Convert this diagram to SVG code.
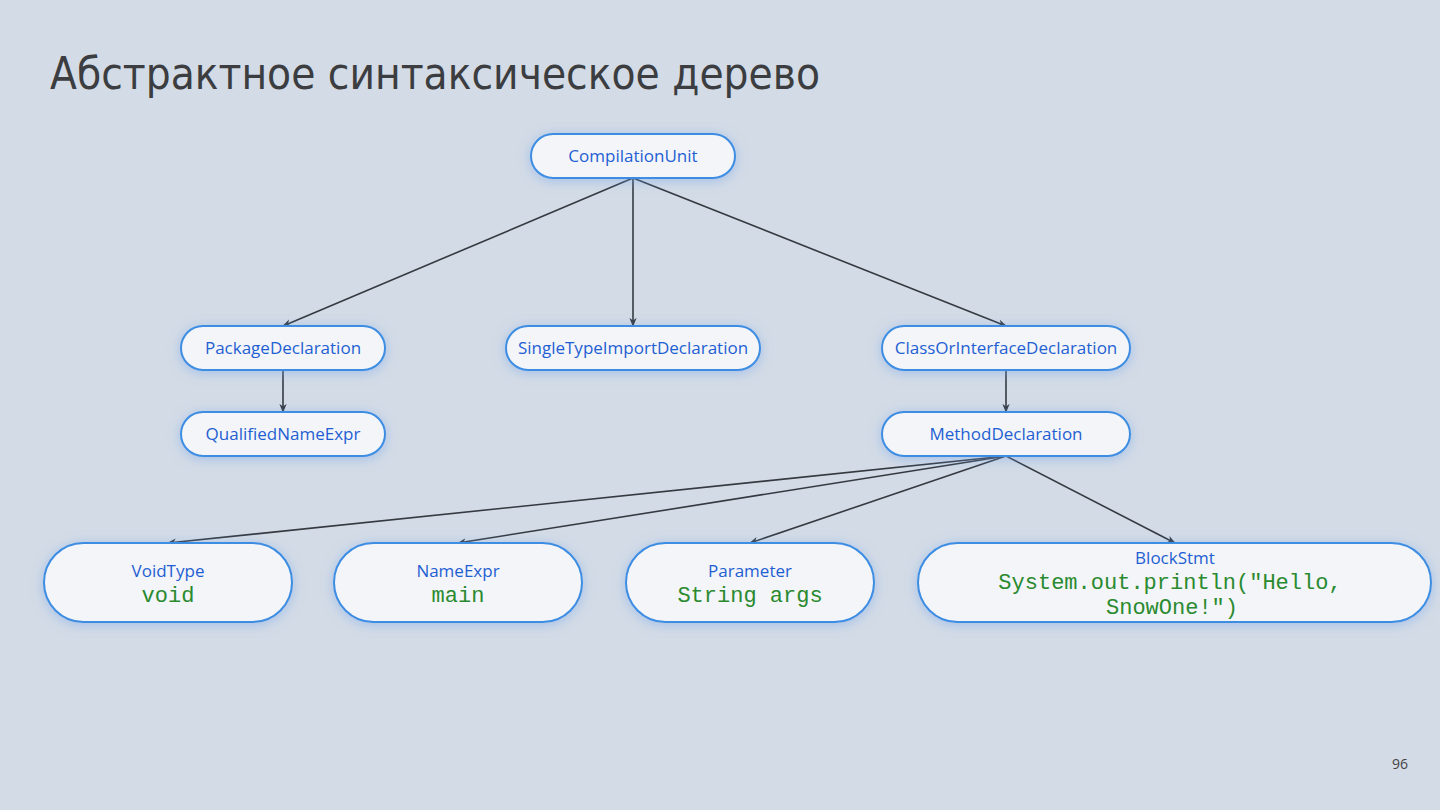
<svg xmlns="http://www.w3.org/2000/svg" width="1440" height="810" viewBox="0 0 1440 810">
<defs>
<style>
.n rect{fill:#f3f5f8;stroke:#3d8de3;stroke-width:2;filter:url(#glow)}
.lbl{font-family:"Open Sans","Noto Sans","DejaVu Sans",sans-serif;font-size:17px;fill:#1f5fd3;text-anchor:middle}
.code{font-family:"Liberation Mono","Courier New",monospace;font-size:22px;fill:#2a8a2f;text-anchor:middle}
.e line{stroke:#353a40;stroke-width:1.6;marker-end:url(#ah)}
</style>
<filter id="glow" x="-20%" y="-40%" width="140%" height="180%">
<feDropShadow dx="0" dy="2" stdDeviation="6" flood-color="#6fa3ee" flood-opacity="0.5"/>
</filter>
<marker id="ah" viewBox="0 0 10 10" refX="9" refY="5" markerWidth="9" markerHeight="9" markerUnits="userSpaceOnUse" orient="auto">
<path d="M0,1 L10,5 L0,9 L3,5 Z" fill="#353a40"/>
</marker>
</defs>
<rect width="1440" height="810" fill="#d3dbe6"/>
<text x="50" y="89" font-family="'DejaVu Sans Condensed','DejaVu Sans',sans-serif" font-size="44" fill="#3b3d40" textLength="770" lengthAdjust="spacingAndGlyphs">Абстрактное синтаксическое дерево</text>
<text x="1400" y="769" font-family="'Open Sans','Noto Sans',sans-serif" font-size="14" fill="#444" text-anchor="middle">96</text>
<g id="connectors" class="e">
<line x1="633" y1="178" x2="283" y2="326"/>
<line x1="633" y1="178" x2="633" y2="326"/>
<line x1="633" y1="178" x2="1006" y2="326"/>
<line x1="283" y1="370" x2="283" y2="412"/>
<line x1="1006" y1="370" x2="1006" y2="412"/>
<line x1="1006" y1="456" x2="168" y2="543"/>
<line x1="1006" y1="456" x2="458" y2="543"/>
<line x1="1006" y1="456" x2="750" y2="543"/>
<line x1="1006" y1="456" x2="1175" y2="543"/>
</g>
<g id="compilationUnit" class="n"><rect x="531" y="134" width="204" height="44" rx="22"/><text class="lbl" x="633" y="162">CompilationUnit</text></g>
<g id="packageDeclaration" class="n"><rect x="181" y="326" width="204" height="44" rx="22"/><text class="lbl" x="283" y="354">PackageDeclaration</text></g>
<g id="singleTypeImportDeclaration" class="n"><rect x="506" y="326" width="254" height="44" rx="22"/><text class="lbl" x="633" y="354">SingleTypeImportDeclaration</text></g>
<g id="classOrInterfaceDeclaration" class="n"><rect x="882" y="326" width="248" height="44" rx="22"/><text class="lbl" x="1006" y="354">ClassOrInterfaceDeclaration</text></g>
<g id="qualifiedNameExpr" class="n"><rect x="181" y="412" width="204" height="44" rx="22"/><text class="lbl" x="283" y="440">QualifiedNameExpr</text></g>
<g id="methodDeclaration" class="n"><rect x="882" y="412" width="248" height="44" rx="22"/><text class="lbl" x="1006" y="440">MethodDeclaration</text></g>
<g id="voidType" class="n"><rect x="44" y="543" width="248" height="79" rx="39.5"/><text class="lbl" x="168" y="577">VoidType</text><text class="code" x="168" y="602">void</text></g>
<g id="nameExpr" class="n"><rect x="334" y="543" width="248" height="79" rx="39.5"/><text class="lbl" x="458" y="577">NameExpr</text><text class="code" x="458" y="602">main</text></g>
<g id="parameter" class="n"><rect x="626" y="543" width="248" height="79" rx="39.5"/><text class="lbl" x="750" y="577">Parameter</text><text class="code" x="750" y="602">String args</text></g>
<g id="blockStmt" class="n"><rect x="918" y="543" width="513" height="79" rx="39.5"/><text class="lbl" x="1175" y="564">BlockStmt</text><text class="code" x="1170" y="589">System.out.println("Hello,</text><text class="code" x="1172" y="614">SnowOne!")</text></g>
</svg>
